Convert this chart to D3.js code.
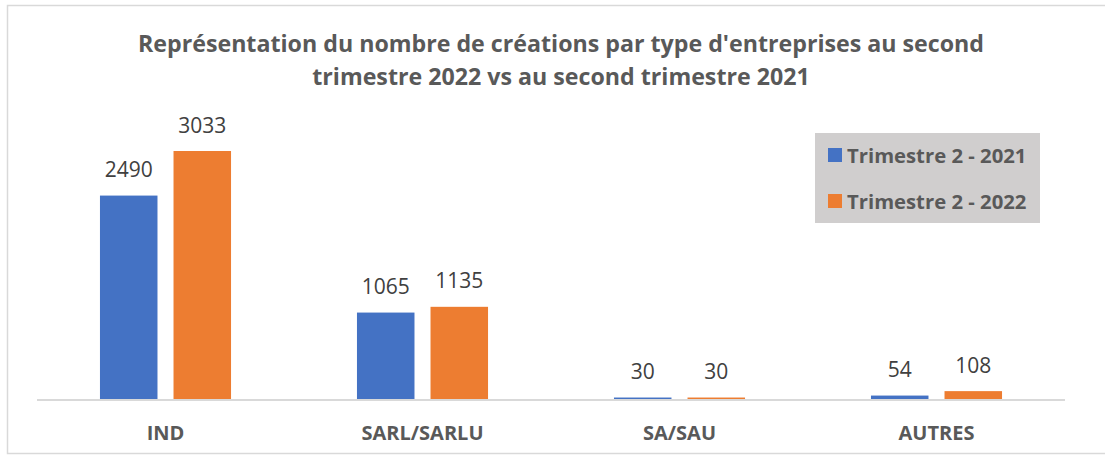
<!DOCTYPE html>
<html><head><meta charset="utf-8">
<script src="https://cdn.jsdelivr.net/npm/d3@7"></script>
<style>body{margin:0;background:#fff}svg{display:block}</style>
</head><body>
<svg id="c" width="1105" height="455"></svg>
<script>
const categories = ["IND", "SARL/SARLU", "SA/SAU", "AUTRES"];
const seriesNames = ["Trimestre 2 - 2021", "Trimestre 2 - 2022"];
const values2021 = [2490, 1065, 30, 54];
const values2022 = [3033, 1135, 30, 108];
const colors = ["#4472C4", "#ED7D31"];
const titleLines = ["Représentation du nombre de créations par type d'entreprises au second", "trimestre 2022 vs au second trimestre 2021"];

const svg = d3.select("#c");
const font = "'Open Sans', 'Liberation Sans', sans-serif";
svg.append("rect").attr("x", 7.5).attr("y", 5.5).attr("width", 1100).attr("height", 448)
  .attr("fill", "#fff").attr("stroke", "#D9D9D9").attr("stroke-width", 1.5);

const x0 = d3.scaleBand().domain(categories).range([37, 1065]).paddingInner(0.49).paddingOuter(0.245);
const x1 = d3.scaleBand().domain(seriesNames).range([0, x0.bandwidth()]).paddingInner(0.218);
const y = d3.scaleLinear().domain([0, 3033]).range([400, 151]);

const data = categories.map((c, i) => ({cat: c, vals: [values2021[i], values2022[i]]}));

const g = svg.append("g").selectAll("g").data(data).join("g")
  .attr("transform", d => `translate(${x0(d.cat)},0)`);
g.selectAll("rect").data(d => d.vals.map((v, j) => ({v, s: seriesNames[j], j}))).join("rect")
  .attr("x", d => x1(d.s)).attr("width", x1.bandwidth())
  .attr("y", d => y(d.v)).attr("height", d => 400 - y(d.v))
  .attr("fill", d => colors[d.j]);
g.selectAll("text").data(d => d.vals.map((v, j) => ({v, s: seriesNames[j], j}))).join("text")
  .attr("x", d => x1(d.s) + x1.bandwidth() / 2).attr("y", d => y(d.v) - 18.5)
  .attr("text-anchor", "middle").attr("font-family", font).attr("font-size", 21)
  .attr("fill", "#404040").text(d => d.v);

const xAxis = d3.axisBottom(x0).tickSize(0).tickPadding(0);
const ax = svg.append("g").attr("transform", "translate(0,400)").call(xAxis);
ax.select(".domain").attr("stroke", "#D9D9D9").attr("stroke-width", 2).attr("d", "M37,0H1065");
ax.selectAll(".tick text").attr("dy", 0).attr("y", 40).attr("font-family", font)
  .attr("font-size", 20).attr("font-weight", "bold").attr("fill", "#595959");

svg.selectAll(".title").data(titleLines).join("text").attr("class", "title")
  .attr("x", 561).attr("y", (d, i) => 52 + i * 33).attr("text-anchor", "middle")
  .attr("font-family", font).attr("font-size", 23.2).attr("font-weight", "bold")
  .attr("fill", "#595959").text(d => d);

const lg = svg.append("g");
lg.append("rect").attr("x", 815).attr("y", 133).attr("width", 225).attr("height", 90).attr("fill", "#D0CECE");
const li = lg.selectAll("g").data(seriesNames).join("g")
  .attr("transform", (d, i) => `translate(828,${148 + i * 46})`);
li.append("rect").attr("width", 14).attr("height", 14).attr("fill", (d, i) => colors[i]);
li.append("text").attr("x", 19).attr("y", 15).attr("font-family", font).attr("font-size", 20.3)
  .attr("font-weight", "bold").attr("fill", "#595959").text(d => d);
</script>
</body></html>
